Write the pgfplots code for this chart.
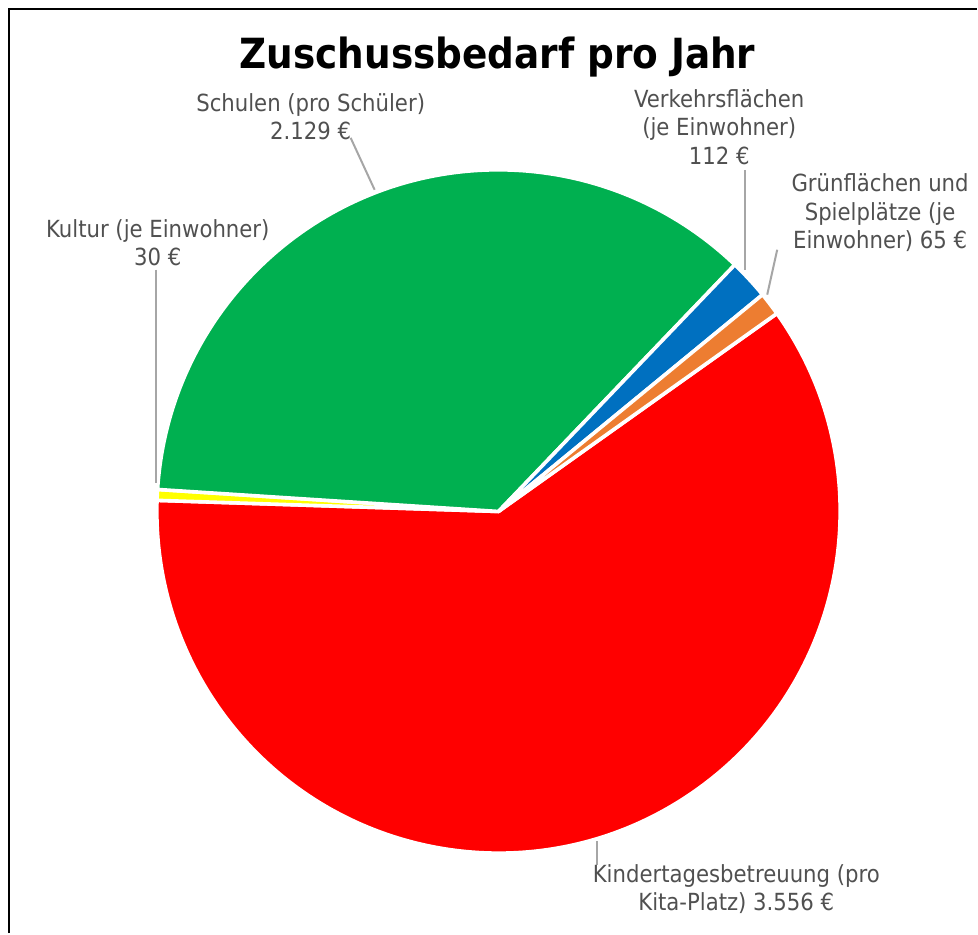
\documentclass[border=0pt]{standalone}
\usepackage{pgfplots}
\pgfplotsset{compat=1.18}
\usepackage{pgfplotstable}
\usepackage{fontspec}
\setmainfont{DejaVu Sans Condensed}
\definecolor{cKita}{RGB}{255,0,0}
\definecolor{cKultur}{RGB}{255,255,0}
\definecolor{cSchulen}{RGB}{0,176,80}
\definecolor{cVerkehr}{RGB}{0,112,192}
\definecolor{cGruen}{RGB}{237,125,49}
\definecolor{labelgray}{RGB}{80,80,80}
\definecolor{leader}{RGB}{166,166,166}

% slices in clockwise order, starting at \startangle (degrees, counter-clockwise from east)
\pgfplotstableread[col sep=comma]{
name,value
Kita,3556
Kultur,30
Schulen,2129
Verkehr,112
Gruen,65
}\piedata
\def\startangle{35.4}

\begin{document}
\begin{tikzpicture}
% total
\def\tot{0}
\pgfplotsforeachungrouped \i in {0,...,4}{%
  \pgfplotstablegetelem{\i}{value}\of\piedata
  \pgfmathsetmacro\tot{\tot+\pgfplotsretval}%
}
% cumulative boundary angles ang0..ang5
\expandafter\xdef\csname ang0\endcsname{\startangle}
\def\cur{\startangle}
\pgfplotsforeachungrouped \i in {0,...,4}{%
  \pgfplotstablegetelem{\i}{value}\of\piedata
  \pgfmathsetmacro\cur{\cur-360*(\pgfplotsretval/\tot)}%
  \pgfmathtruncatemacro\j{\i+1}%
  \expandafter\xdef\csname ang\j\endcsname{\cur}%
}
\begin{axis}[
  scale only axis, width=489pt, height=467pt,
  xmin=0, xmax=978, ymin=-934, ymax=0,
  hide axis, clip=false,
]
% fixed picture extent
\path (axis cs:0,-934) rectangle (axis cs:978,0);
\def\R{171pt}
\newcommand\slice[3]{%
  \fill[#3, draw=white, line width=1.8pt, line join=round]
    (axis cs:499,-512) -- ([shift={(#1:\R)}]axis cs:499,-512)
    arc[start angle=#1, end angle=#2, radius=\R] -- cycle;}
\slice{\csname ang0\endcsname}{\csname ang1\endcsname}{cKita}
\slice{\csname ang1\endcsname}{\csname ang2\endcsname}{cKultur}
\slice{\csname ang2\endcsname}{\csname ang3\endcsname}{cSchulen}
\slice{\csname ang3\endcsname}{\csname ang4\endcsname}{cVerkehr}
\slice{\csname ang4\endcsname}{\csname ang5\endcsname}{cGruen}

% frame
\draw[black, line width=1pt] (axis cs:9,-934) -- (axis cs:9,-9) -- (axis cs:978,-9);

% title
\node[font=\fontsize{20.8}{24}\selectfont\bfseries, black] at (axis cs:498,-57) {Zuschussbedarf pro Jahr};

% leader lines
\draw[leader, line width=1pt] (axis cs:351,-138) -- (axis cs:375,-190);
\draw[leader, line width=1pt] (axis cs:156,-270) -- (axis cs:156,-484);
\draw[leader, line width=1pt] (axis cs:746,-170) -- (axis cs:746,-270);
\draw[leader, line width=1pt] (axis cs:778,-250) -- (axis cs:768,-295);
\draw[leader, line width=1pt] (axis cs:598,-842) -- (axis cs:598,-866);

% labels
\tikzset{lbl/.style={labelgray, align=center, inner sep=0pt, font=\fontsize{11.8}{14.3}\selectfont}}
\node[lbl] at (axis cs:311,-117) {Schulen (pro Schüler)\\2.129 €};
\node[lbl] at (axis cs:720,-127) {Verkehrsflächen\\(je Einwohner)\\112 €};
\node[lbl] at (axis cs:881,-213) {Grünflächen und\\Spielplätze (je\\Einwohner) 65 €};
\node[lbl] at (axis cs:158,-243) {Kultur (je Einwohner)\\30 €};
\node[lbl] at (axis cs:737,-890) {Kindertagesbetreuung (pro\\Kita-Platz) 3.556 €};
\end{axis}
\end{tikzpicture}
\end{document}
